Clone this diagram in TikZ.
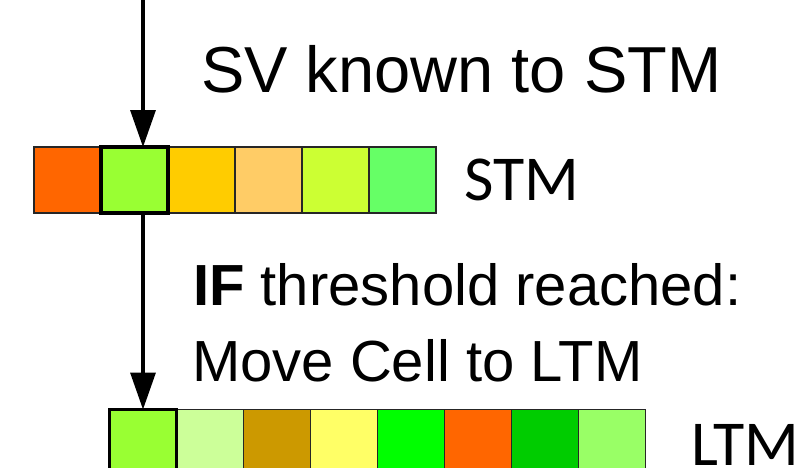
\documentclass[tikz,border=0pt]{standalone}
\usepackage{fontspec}
\setmainfont{Liberation Sans}
\newfontfamily\calibri{Carlito}
\usetikzlibrary{arrows.meta}
\definecolor{cA}{HTML}{FF6600}
\definecolor{cB}{HTML}{99FF33}
\definecolor{cC}{HTML}{FFCC00}
\definecolor{cD}{HTML}{FFCC66}
\definecolor{cE}{HTML}{CCFF33}
\definecolor{cF}{HTML}{66FF66}
\definecolor{cG}{HTML}{CCFF99}
\definecolor{cH}{HTML}{CC9900}
\definecolor{cI}{HTML}{FFFF66}
\definecolor{cJ}{HTML}{00FF00}
\definecolor{cK}{HTML}{00CC00}
\definecolor{cL}{HTML}{99FF66}
\tikzset{
  cell/.style={draw=black!85, line width=1.5pt, minimum width=67pt, minimum height=66pt, inner sep=0pt, outer sep=0pt},
  hcell/.style={cell, draw=black, line width=3.5pt},
  conn/.style={line width=3.3pt, -{Triangle[length=37pt,width=25pt]}},
  big/.style={inner sep=0pt, anchor=base west}
}
\begin{document}
\begin{tikzpicture}[x=1pt,y=-1pt]
\clip (0,0) rectangle (797,467);
\fill[white] (0,0) rectangle (797,467);
% STM cells
\node[cell, fill=cA] (s1) at (67.5,180) {};
\node[cell, fill=cC] (s3) at (201.5,180) {};
\node[cell, fill=cD] (s4) at (268.5,180) {};
\node[cell, fill=cE] (s5) at (335.5,180) {};
\node[cell, fill=cF] (s6) at (402.5,180) {};
\node[hcell, fill=cB] (s2) at (134.5,180) {};
% LTM cells
\node[cell, fill=cG] (l2) at (210,442.5) {};
\node[cell, fill=cH] (l3) at (277,442.5) {};
\node[cell, fill=cI] (l4) at (344,442.5) {};
\node[cell, fill=cJ] (l5) at (411,442.5) {};
\node[cell, fill=cA] (l6) at (478,442.5) {};
\node[cell, fill=cK] (l7) at (545,442.5) {};
\node[cell, fill=cL] (l8) at (612,442.5) {};
\node[hcell, fill=cB] (l1) at (143,442.5) {};
% texts
\node[big, font=\fontsize{65}{78}\selectfont] (t1) at (201,92) {SV known to STM};
\node[big, font=\calibri\fontsize{64}{76}\selectfont] (tstm) at (464,200.5) {STM};
\node[big, font=\calibri\fontsize{64}{76}\selectfont] (tltm) at (691,465) {LTM};
\node[big, font=\fontsize{58}{76}\selectfont] (t2) at (193,305) {\textbf{IF} threshold reached:};
\node[big, font=\fontsize{58}{76}\selectfont] (t3) at (192,381.5) {Move Cell to LTM};
% connectors
\coordinate (top) at (143,-2);
\draw[conn] (top) -- (top |- s2.north);
\draw[conn] (s2.south -| l1) -- (l1.north);
\end{tikzpicture}
\end{document}
